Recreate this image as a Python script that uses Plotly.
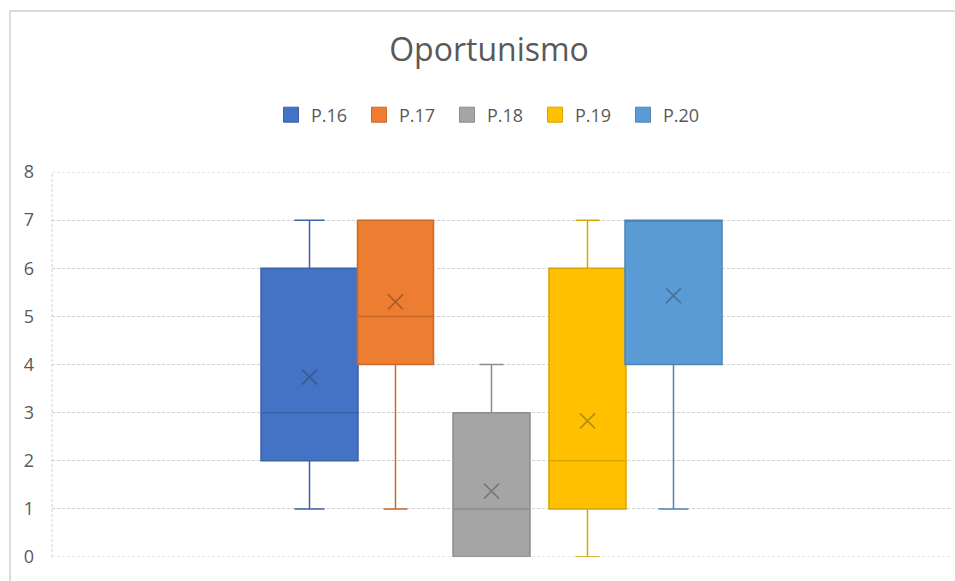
import plotly.graph_objects as go

# Five questions of the "Oportunismo" block, summarised as box statistics
series = ["P.16", "P.17", "P.18", "P.19", "P.20"]
minimum = [1, 1, 0, 0, 1]
q1 = [2, 4, 0, 1, 4]
median = [3, 5, 1, 2, 7]
q3 = [6, 7, 3, 6, 7]
maximum = [7, 7, 4, 7, 7]
mean = [3.74, 5.3, 1.37, 2.83, 5.43]
y_range = [0, 8]

fills = ["#4472C4", "#ED7D31", "#A5A5A5", "#FFC000", "#5B9BD5"]
edges = ["#3A62A8", "#C9692A", "#8C8C8C", "#D9A300", "#4D84B5"]

# horizontal layout of the boxes inside the plot (axis units)
centers = [257.5, 343.5, 439.5, 535.5, 621.5]
widths = [97, 76, 77, 77, 97]

W, H = 955, 581
L, R, T, B = 52, 5, 172, 24
pw, ph = W - L - R, H - T - B

grid = "#D0D0D0"
txt = "#595959"
font = "Open Sans"
dash = "3px,2px"

fig = go.Figure()
for i, name in enumerate(series):
    fig.add_trace(go.Box(
        name=name,
        x=[centers[i]],
        q1=[q1[i]], median=[median[i]], q3=[q3[i]],
        lowerfence=[minimum[i]], upperfence=[maximum[i]],
        width=widths[i],
        fillcolor=fills[i],
        line=dict(color=edges[i], width=1.5),
        whiskerwidth=0.31,
        boxpoints=False,
        showlegend=False,
        hoverinfo="skip",
    ))
for i, name in enumerate(series):
    fig.add_trace(go.Scatter(
        x=[centers[i]], y=[mean[i]],
        mode="markers",
        marker=dict(symbol="x-thin", size=15,
                    line=dict(width=1.6, color="rgba(40,40,40,0.35)")),
        showlegend=False, hoverinfo="skip",
    ))
# legend swatches
for i, name in enumerate(series):
    fig.add_trace(go.Scatter(
        x=[None], y=[None], name=name, mode="markers",
        marker=dict(symbol="square", size=15, color=fills[i],
                    line=dict(width=1, color=edges[i])),
    ))

fig.update_layout(
    width=W, height=H,
    margin=dict(l=L, r=R, t=T, b=B),
    paper_bgcolor="white", plot_bgcolor="white",
    boxmode="overlay",
    title=dict(text="Oportunismo", x=489 / W, xanchor="center",
               xref="container", yref="container", y=1 - 50 / H, yanchor="middle",
               font=dict(family=font, size=32, color=txt)),
    legend=dict(orientation="h", x=(491 - L) / pw, xanchor="center",
                y=(H - B - 115) / ph, yanchor="middle",
                font=dict(family=font, size=18, color=txt),
                itemwidth=30, entrywidth=43, entrywidthmode="pixels"),
    xaxis=dict(range=[0, pw], showgrid=False, zeroline=False, showticklabels=False,
               showline=False, fixedrange=True),
    yaxis=dict(range=y_range, dtick=1, showgrid=True, gridcolor=grid, griddash=dash,
               gridwidth=1, zeroline=False, showline=False, ticks="",
               ticklabelstandoff=17,
               tickfont=dict(family=font, size=18, color=txt)),
    shapes=[
        dict(type="line", xref="x domain", yref="y domain", x0=0, x1=0, y0=0, y1=1,
             line=dict(color=grid, width=1, dash=dash), layer="below"),
        dict(type="line", xref="x domain", yref="y", x0=0, x1=1,
             y0=y_range[0], y1=y_range[0],
             line=dict(color=grid, width=1, dash=dash), layer="below"),
        dict(type="line", xref="x domain", yref="y", x0=0, x1=1,
             y0=y_range[1], y1=y_range[1],
             line=dict(color=grid, width=1, dash=dash), layer="below"),
        dict(type="rect", xref="paper", yref="paper",
             x0=(10 - L) / pw, x1=(W + 20 - L) / pw,
             y0=-(B + 20) / ph, y1=(H - B - 11) / ph,
             line=dict(color=grid, width=1.5), layer="below"),
    ],
)

fig.write_html("out.html")
